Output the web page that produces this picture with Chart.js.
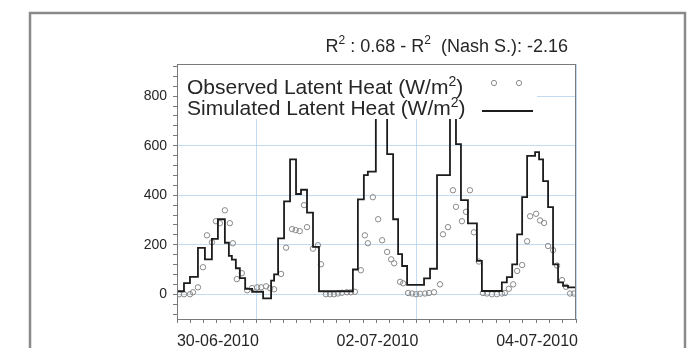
<!DOCTYPE html>
<html>
<head>
  <title>Latent Heat</title>
  <script src="https://cdn.jsdelivr.net/npm/chart.js"></script>
  <style>
    html, body { margin: 0; padding: 0; background: #fff; }
  </style>
</head>
<body>
<canvas id="heatChart" width="691" height="348"></canvas>

<script>
// observed latent heat (circles), hours from start of plot
const obsHours = [0.6, 2.1, 3.9, 4.8, 6.3, 7.8, 9.0, 10.5, 11.7, 12.9, 14.4, 15.9, 16.8, 18.0, 19.5,
  21.1, 22.6, 24.1, 25.3, 26.8, 28.0, 29.2, 31.3, 32.8, 34.6, 35.7, 36.9, 38.2, 39.1, 40.9, 42.4, 43.3,
  44.8, 46.0, 47.2, 48.4, 49.6, 51.1, 52.3, 53.5, 55.3, 56.5, 57.4, 58.9, 60.5, 61.7, 63.2, 64.4, 65.3,
  67.1, 68.0, 69.5, 70.7, 71.9, 73.1, 74.6, 75.8, 77.3, 79.1, 80.0, 81.5, 83.0, 83.9, 85.7, 86.9, 88.1,
  89.3, 90.8, 92.0, 93.2, 94.7, 96.2, 97.7, 98.6, 99.8, 101.1, 102.3, 103.8, 105.3, 106.2, 108.0, 109.2,
  110.4, 111.6, 113.1, 114.3, 115.8, 117.0, 118.2, 119.4];
const obsValues = [0, 0, 0, 8, 28, 109, 238, 210, 295, 287, 339, 287, 206, 61, 85,
  16, 25, 28, 28, 32, 24, 20, 82, 188, 263, 259, 255, 360, 271, 184, 198, 121,
  0, 0, 0, 3, 6, 8, 8, 10, 97, 238, 206, 392, 303, 218, 171, 141, 125,
  50, 44, 5, 3, 0, 2, 3, 5, 8, 40, 242, 271, 420, 353, 295, 333, 420,
  250, 132, 5, 3, 0, 0, 3, 5, 22, 40, 94, 118, 214, 315, 325, 298,
  288, 195, 178, 116, 57, 30, 3, 3];

// simulated latent heat (step line), value holds from each hour to the next
const simHours = [0, 2.1, 3.9, 6.3, 8.4, 10.5, 12.3, 14.4, 15.6, 16.5, 17.7, 18.9, 20.5, 22.6, 25.9,
  28.3, 29.2, 30.4, 32.2, 34.0, 35.8, 37.3, 39.1, 40.9, 42.7, 52.9, 54.4, 56.2, 57.4, 59.8,
  63.2, 65.0, 66.5, 67.7, 69.2, 74.3, 76.1, 78.2, 82.1, 83.9, 85.4, 87.5, 90.2, 91.7, 97.7,
  99.2, 100.8, 102.3, 103.8, 105.3, 107.7, 108.9, 110.1, 111.6, 113.1, 114.6, 116.1, 117.6, 120];
const simValues = [12, 45, 70, 187, 141, 224, 303, 208, 155, 140, 105, 65, 22, 10, -17,
  55, 80, 226, 375, 545, 405, 422, 330, 191, 12, 100, 383, 481, 495, 880,
  566, 303, 162, 114, 38, 64, 103, 481, 870, 606, 380, 286, 135, 13, 48,
  69, 121, 242, 392, 559, 574, 545, 457, 352, 121, 48, 34, 28, 28];

const dateTickHours = [24, 72, 120];
const dateTickLabels = ['30-06-2010', '02-07-2010', '04-07-2010'];
const yLabelStep = 200;

const legendLabels = ['Observed Latent Heat (W/m', 'Simulated Latent Heat (W/m'];
const titleParts = [['R', false], ['2', true], [' : 0.68 - R', false], ['2', true], ['  (Nash S.): -2.16', false]];

const FONT = '"Liberation Sans", Arial, sans-serif';
const gridBlue = 'rgba(175, 208, 238, 0.75)';
const obsColor = '#8a8a8a';
const simColor = '#1c1c1c';

// text with superscripts, drawn right-aligned
function drawSupText(ctx, parts, xRight, baseline, size) {
  const supSize = Math.round(size * 0.68);
  let total = 0;
  parts.forEach(([t, sup]) => {
    ctx.font = (sup ? supSize : size) + 'px ' + FONT;
    total += ctx.measureText(t).width;
  });
  let x = xRight - total;
  parts.forEach(([t, sup]) => {
    ctx.font = (sup ? supSize : size) + 'px ' + FONT;
    ctx.fillText(t, x, sup ? baseline - size * 0.42 : baseline);
    x += ctx.measureText(t).width;
  });
}

const decor = {
  id: 'decor',
  beforeDraw(chart) {
    const ctx = chart.ctx;
    ctx.save();
    ctx.fillStyle = '#fff';
    ctx.fillRect(0, 0, chart.width, chart.height);
    ctx.strokeStyle = '#8a8a8a';
    ctx.lineWidth = 2.5;
    ctx.strokeRect(30, 13, 655, 360);
    ctx.fillStyle = '#262626';
    ctx.textBaseline = 'alphabetic';
    drawSupText(ctx, titleParts, 568, 52, 18);
    ctx.restore();
  },
  afterDatasetsDraw(chart) {
    const ctx = chart.ctx;
    const a = chart.chartArea;
    ctx.save();
    // legend box inside the plot
    ctx.fillStyle = '#fff';
    ctx.fillRect(a.left, a.top, 360, 55);
    ctx.fillStyle = '#262626';
    ctx.textBaseline = 'alphabetic';
    legendLabels.forEach((lab, i) => {
      const base = a.top + 30 + i * 21;
      ctx.font = '21px ' + FONT;
      ctx.fillText(lab, a.left + 10, base);
      let x = a.left + 10 + ctx.measureText(lab).width;
      ctx.font = '14px ' + FONT;
      ctx.fillText('2', x, base - 8);
      x += ctx.measureText('2').width;
      ctx.font = '21px ' + FONT;
      ctx.fillText(')', x, base);
    });
    ctx.strokeStyle = obsColor;
    ctx.lineWidth = 1;
    [317, 342].forEach(dx => {
      ctx.beginPath();
      ctx.arc(a.left + dx, a.top + 19, 2.6, 0, Math.PI * 2);
      ctx.stroke();
    });
    ctx.strokeStyle = simColor;
    ctx.lineWidth = 2;
    ctx.beginPath();
    ctx.moveTo(a.left + 305, a.top + 47);
    ctx.lineTo(a.left + 356, a.top + 47);
    ctx.stroke();
    // plot frame
    ctx.strokeStyle = '#7a7a7a';
    ctx.lineWidth = 1;
    ctx.strokeRect(a.left + 0.5, a.top + 0.5, a.right - a.left - 1, a.bottom - a.top);
    ctx.restore();
  }
};

new Chart(document.getElementById('heatChart'), {
  type: 'line',
  data: {
    datasets: [
      {
        label: 'Observed Latent Heat (W/m²)',
        data: obsHours.map((h, i) => ({ x: h, y: obsValues[i] })),
        showLine: false,
        pointStyle: 'circle',
        pointRadius: 2.7,
        pointBorderWidth: 1,
        pointBorderColor: obsColor,
        pointBackgroundColor: 'rgba(0,0,0,0)',
        order: 2
      },
      {
        label: 'Simulated Latent Heat (W/m²)',
        data: simHours.map((h, i) => ({ x: h, y: simValues[i] })),
        stepped: true,
        borderColor: simColor,
        borderWidth: 1.8,
        pointRadius: 0,
        fill: false,
        order: 1
      }
    ]
  },
  options: {
    responsive: false,
    devicePixelRatio: 1,
    animation: false,
    events: [],
    layout: { padding: { left: 0, top: 64, right: 115, bottom: 0 } },
    plugins: {
      legend: { display: false },
      title: { display: false },
      tooltip: { enabled: false }
    },
    scales: {
      x: {
        type: 'linear',
        min: 0,
        max: 120,
        border: { display: false },
        grid: {
          color: c => (c.tick && dateTickHours.includes(c.tick.value)) ? gridBlue : 'rgba(0,0,0,0)',
          tickColor: '#7a7a7a',
          tickLength: 4,
          lineWidth: 1
        },
        ticks: {
          stepSize: 4,
          autoSkip: false,
          maxRotation: 0,
          align: 'end',
          labelOffset: 2,
          padding: 9,
          color: '#262626',
          font: { family: FONT, size: 16 },
          callback: v => {
            const k = dateTickHours.indexOf(v);
            return k >= 0 ? dateTickLabels[k] : '';
          }
        },
        afterFit: s => { s.height = 29; }
      },
      y: {
        type: 'linear',
        min: -100,
        max: 930,
        border: { display: false },
        grid: {
          color: c => (c.tick && c.tick.value % yLabelStep === 0) ? gridBlue : 'rgba(0,0,0,0)',
          tickColor: '#7a7a7a',
          tickLength: 4,
          lineWidth: 1
        },
        ticks: {
          stepSize: 40,
          includeBounds: false,
          autoSkip: false,
          padding: 6,
          color: '#262626',
          font: { family: FONT, size: 14 },
          callback: v => (v % yLabelStep === 0 ? v : '')
        },
        afterFit: s => { s.width = 177; }
      }
    }
  },
  plugins: [decor]
});
</script>
</body>
</html>
